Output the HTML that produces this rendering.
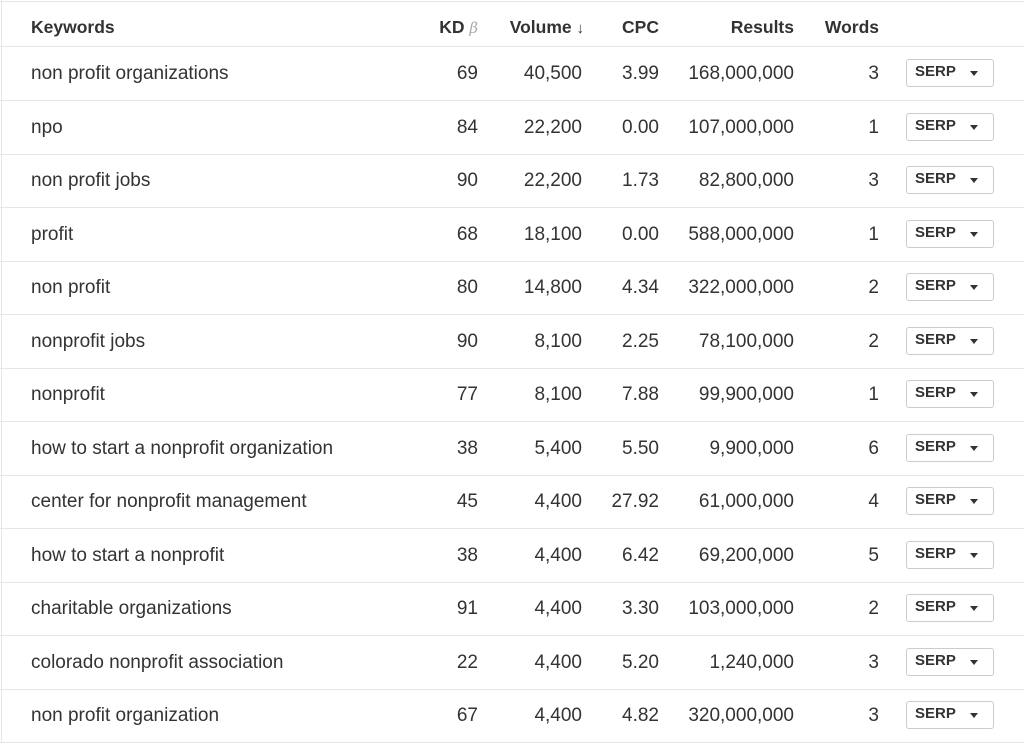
<!DOCTYPE html>
<html><head><style>
body{margin:0;width:1024px;height:742px;background:#fff;font-family:"Liberation Sans",Arial,sans-serif;color:#333;position:relative;overflow:hidden}
.l{position:absolute;left:0;width:1024px;height:1px;background:#e6e6e6}
.t{position:absolute;font-size:19px;line-height:20px;white-space:nowrap}
.r{text-align:right}
.h{font-weight:bold;font-size:17.5px;color:#333}
.b{position:absolute;left:906px;width:86px;height:26px;border:1px solid #ccc;border-radius:3px;background:#fff;font-weight:bold;font-size:15px;line-height:24px;color:#333}
.b span{position:absolute;left:8px}
.b i{position:absolute;left:63px;top:11px;width:0;height:0;border-left:4px solid transparent;border-right:4px solid transparent;border-top:5px solid #333}
</style></head><body>
<div style="position:absolute;left:1px;top:0;width:1px;height:742px;background:#e6e6e6"></div>
<div class="l" style="top:1px"></div>
<div class="l" style="top:46px"></div>
<div class="t h" style="left:31px;top:17px">Keywords</div>
<div class="t h r" style="right:546px;top:17px">KD <span style="font-weight:normal;font-style:italic;color:#aaa;font-family:'DejaVu Serif',serif;font-size:15px">β</span></div>
<div class="t h r" style="right:440px;top:17px">Volume <span style="font-size:15px">&#x2193;</span></div>
<div class="t h r" style="right:365px;top:17px">CPC</div>
<div class="t h r" style="right:230px;top:17px">Results</div>
<div class="t h r" style="right:145px;top:17px">Words</div>
<div id="rows"></div>
<script>
var d=[["non profit organizations",69,"40,500","3.99","168,000,000",3],["npo",84,"22,200","0.00","107,000,000",1],["non profit jobs",90,"22,200","1.73","82,800,000",3],["profit",68,"18,100","0.00","588,000,000",1],["non profit",80,"14,800","4.34","322,000,000",2],["nonprofit jobs",90,"8,100","2.25","78,100,000",2],["nonprofit",77,"8,100","7.88","99,900,000",1],["how to start a nonprofit organization",38,"5,400","5.50","9,900,000",6],["center for nonprofit management",45,"4,400","27.92","61,000,000",4],["how to start a nonprofit",38,"4,400","6.42","69,200,000",5],["charitable organizations",91,"4,400","3.30","103,000,000",2],["colorado nonprofit association",22,"4,400","5.20","1,240,000",3],["non profit organization",67,"4,400","4.82","320,000,000",3]];
var h="";
d.forEach(function(r,i){var c=73+53.5*i,t=c-9;
h+='<div class="t" style="left:31px;top:'+t+'px">'+r[0]+'</div>';
h+='<div class="t r" style="right:546px;top:'+t+'px">'+r[1]+'</div>';
h+='<div class="t r" style="right:442px;top:'+t+'px">'+r[2]+'</div>';
h+='<div class="t r" style="right:365px;top:'+t+'px">'+r[3]+'</div>';
h+='<div class="t r" style="right:230px;top:'+t+'px">'+r[4]+'</div>';
h+='<div class="t r" style="right:145px;top:'+t+'px">'+r[5]+'</div>';
h+='<div class="b" style="top:'+(c-14)+'px"><span>SERP</span><i></i></div>';
h+='<div class="l" style="top:'+(100+53.5*i)+'px"></div>';});
document.getElementById("rows").innerHTML=h;
</script>
</body></html>
